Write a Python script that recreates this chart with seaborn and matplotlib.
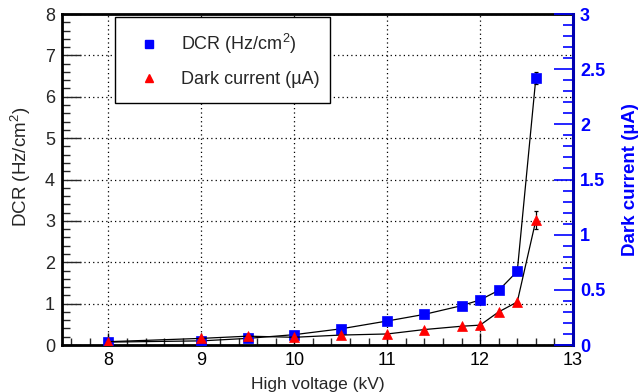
import matplotlib
matplotlib.use("Agg")
import matplotlib.pyplot as plt
import seaborn as sns
import numpy as np
import pandas as pd
from matplotlib.ticker import MultipleLocator
from matplotlib.lines import Line2D

# ---- data ----
hv = [8.0, 9.0, 9.5, 10.0, 10.5, 11.0, 11.4, 11.8, 12.0, 12.2, 12.4, 12.6]
dcr = [0.07, 0.10, 0.16, 0.25, 0.39, 0.58, 0.74, 0.95, 1.09, 1.32, 1.78, 6.45]
dcr_err = [0.0, 0.0, 0.0, 0.0, 0.0, 0.0, 0.0, 0.0, 0.0, 0.0, 0.0, 0.14]
dark_current = [0.03, 0.06, 0.08, 0.07, 0.09, 0.10, 0.14, 0.17, 0.18, 0.30, 0.39, 1.13]
dark_err = [0.0, 0.0, 0.0, 0.0, 0.0, 0.0, 0.0, 0.0, 0.0, 0.0, 0.0, 0.08]
x_ticks = [8, 9, 10, 11, 12, 13]
left_ticks = [0, 1, 2, 3, 4, 5, 6, 7, 8]
right_ticks = [0, 0.5, 1, 1.5, 2, 2.5, 3]
right_tick_labels = ["0", "0.5", "1", "1.5", "2", "2.5", "3"]

df = pd.DataFrame({"hv": hv, "dcr": dcr, "dark": dark_current})

sns.set_style("ticks")
plt.rcParams["font.family"] = ["Liberation Sans", "DejaVu Sans"]
plt.rcParams["mathtext.fontset"] = "custom"
plt.rcParams["mathtext.rm"] = "Liberation Sans"

fig = plt.figure(figsize=(6.39, 3.92), dpi=100)
ax = fig.add_axes([62/639, 47/392, 511/639, 331/392])
ax2 = ax.twinx()

# DCR on left axis
ax.errorbar(hv, dcr, yerr=dcr_err, fmt="none", ecolor="black", elinewidth=0.9,
            capsize=1.5, capthick=0.9, zorder=2)
sns.lineplot(data=df, x="hv", y="dcr", ax=ax, color="black", linewidth=0.9,
             marker="s", markersize=6.5, markerfacecolor="blue",
             markeredgecolor="blue", markeredgewidth=0.5, zorder=3)

# Dark current on right axis
ax2.errorbar(hv, dark_current, yerr=dark_err, fmt="none", ecolor="black",
             elinewidth=0.9, capsize=1.5, capthick=0.9, zorder=2)
sns.lineplot(data=df, x="hv", y="dark", ax=ax2, color="black", linewidth=0.9,
             marker="^", markersize=6.5, markerfacecolor="red",
             markeredgecolor="red", markeredgewidth=0.5, zorder=3)

ax.set_xlim(7.5, 13)
ax.set_ylim(0, 8)
ax2.set_ylim(0, 3)

ax.set_xticks(x_ticks)
ax.set_xticklabels([str(t) for t in x_ticks])
ax.xaxis.set_minor_locator(MultipleLocator(0.2))
ax.set_yticks(left_ticks)
ax.set_yticklabels([str(t) for t in left_ticks])
ax.yaxis.set_minor_locator(MultipleLocator(0.2))
ax2.set_yticks(right_ticks)
ax2.set_yticklabels(right_tick_labels)
ax2.yaxis.set_minor_locator(MultipleLocator(0.1))

ax.grid(True, which="major", linestyle=(0, (1, 2.5)), color="black", linewidth=0.9)

ax.tick_params(axis="x", which="major", direction="in", length=9, width=1,
               labelsize=13, pad=5, colors="black")
ax.tick_params(axis="x", which="minor", direction="in", length=5, width=1)
ax.tick_params(axis="y", which="major", direction="in", length=14, width=1,
               labelsize=13, pad=5)
ax.tick_params(axis="y", which="minor", direction="in", length=6, width=1)
ax2.tick_params(axis="y", which="major", direction="in", length=14, width=1.2,
                color="blue", labelcolor="blue", labelsize=13, pad=5)
ax2.tick_params(axis="y", which="minor", direction="in", length=7, width=1.2,
                color="blue")
for lbl in ax2.get_yticklabels():
    lbl.set_fontweight("bold")

for s in ["left", "bottom", "top"]:
    ax.spines[s].set_linewidth(2)
    ax.spines[s].set_color("black")
ax.spines["right"].set_visible(False)
for s in ["left", "bottom", "top"]:
    ax2.spines[s].set_visible(False)
ax2.spines["right"].set_visible(True)
ax2.spines["right"].set_color("#0000b0")
ax2.spines["right"].set_linewidth(2.2)

ax.set_xlabel("High voltage (kV)", fontsize=12.5, labelpad=6)
ax.set_ylabel("DCR (Hz/cm$^{2}$)", fontsize=13.5)
ax.yaxis.set_label_coords(-0.056, 0.538)
ax2.set_ylabel("Dark current (\u00b5A)", fontsize=13.5, color="blue",
               fontweight="bold", labelpad=12)

handles = [
    Line2D([], [], linestyle="none", marker="s", markersize=5.5,
           markerfacecolor="blue", markeredgecolor="blue"),
    Line2D([], [], linestyle="none", marker="^", markersize=5.5,
           markerfacecolor="red", markeredgecolor="red"),
]
leg = ax2.legend(handles, ["DCR (Hz/cm$^{2}$)", "Dark current (\u00b5A)"],
                 loc="upper left", bbox_to_anchor=(0.104, 0.745, 0.42, 0.246),
                 mode="expand", fontsize=13, frameon=True, fancybox=False,
                 edgecolor="black", framealpha=1, borderpad=0.85,
                 labelspacing=0.8, handlelength=2.0, handletextpad=0.8,
                 borderaxespad=0)
leg.get_frame().set_linewidth(1.0)

fig.savefig("out.png", dpi=100)
